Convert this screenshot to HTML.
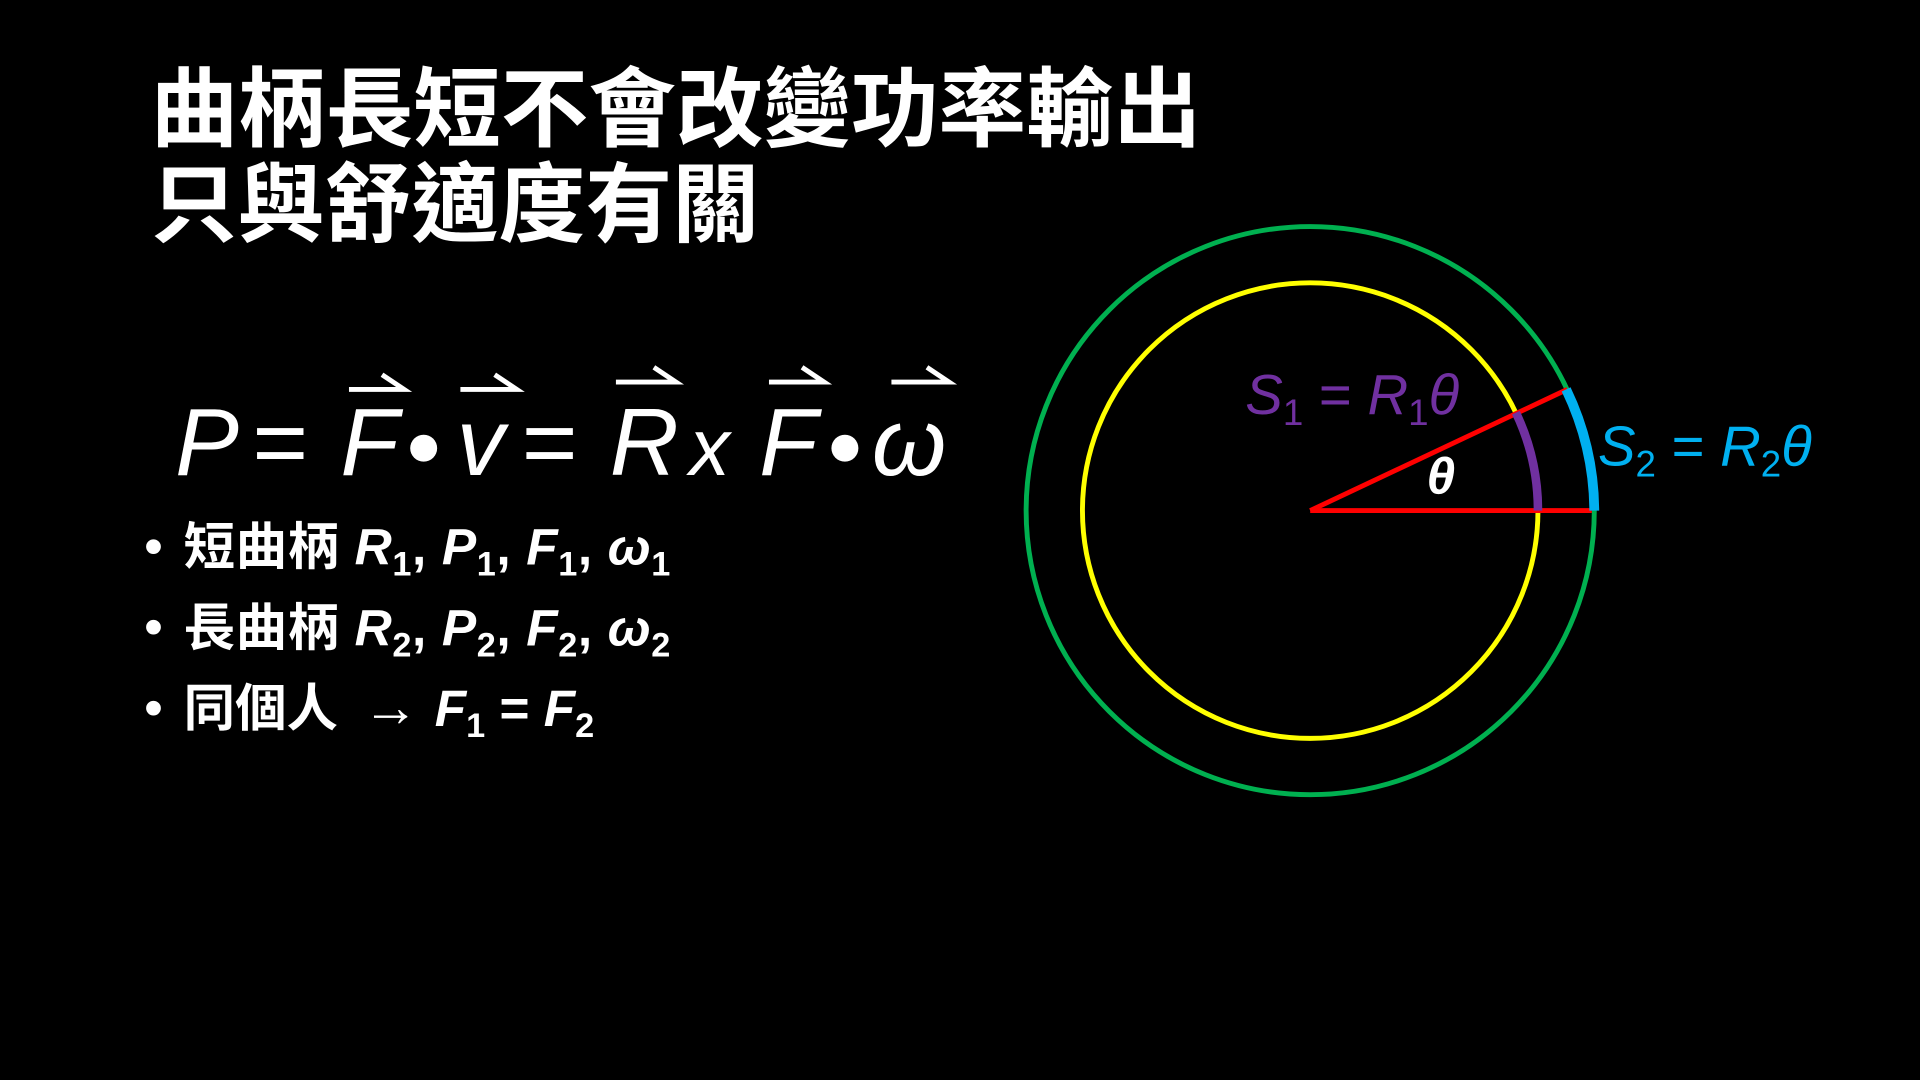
<!DOCTYPE html>
<html><head><meta charset="utf-8"><style>
html,body{margin:0;padding:0;background:#000;width:1920px;height:1080px;overflow:hidden}
svg{display:block}
.t{font-family:"Liberation Sans","Noto Sans CJK TC",sans-serif;fill:#fff}
.i{font-style:italic}
</style></head><body>
<svg width="1920" height="1080" viewBox="0 0 1568 882" xmlns="http://www.w3.org/2000/svg">
<rect width="1568" height="882" fill="#000"/>
<text class="t" x="123" y="114" font-size="71" font-weight="bold" textLength="858" lengthAdjust="spacingAndGlyphs">曲柄長短不會改變功率輸出</text>
<text class="t" x="123" y="192" font-size="71" font-weight="bold" textLength="497" lengthAdjust="spacingAndGlyphs">只與舒適度有關</text>

<g class="t i" font-size="78">
<text class="t i" x="143" y="388">P</text>
<text class="t" x="205" y="388">=</text>
<text class="t i" x="278" y="388">F</text>
<circle cx="346" cy="366" r="11" fill="#fff"/>
<text class="t i" x="373" y="388">v</text>
<text class="t" x="425" y="388">=</text>
<text class="t i" x="498" y="388">R</text>
<text class="t i" x="563" y="388" font-size="66">x</text>
<text class="t i" x="620" y="388">F</text>
<circle cx="690" cy="366" r="11" fill="#fff"/>
<text class="t i" x="712" y="388">ω</text>
</g>
<g stroke="#fff" stroke-width="4" fill="none">
<path d="M285 318H330L312 306"/>
<path d="M376 318H422L404 306"/>
<path d="M503 312H552L534 300"/>
<path d="M628 312H673L655 300"/>
<path d="M728 312H775L757 300"/>
</g>

<g font-size="42" font-weight="bold">
<text class="t" x="118" y="460">•</text>
<text class="t" x="150" y="461" letter-spacing="0.5">短曲柄 <tspan class="i">R</tspan><tspan font-size="28" dy="9">1</tspan><tspan dy="-9">, </tspan><tspan class="i">P</tspan><tspan font-size="28" dy="9">1</tspan><tspan dy="-9">, </tspan><tspan class="i">F</tspan><tspan font-size="28" dy="9">1</tspan><tspan dy="-9">, </tspan><tspan class="i">ω</tspan><tspan font-size="28" dy="9">1</tspan></text>
<text class="t" x="118" y="526">•</text>
<text class="t" x="150" y="527" letter-spacing="0.5">長曲柄 <tspan class="i">R</tspan><tspan font-size="28" dy="9">2</tspan><tspan dy="-9">, </tspan><tspan class="i">P</tspan><tspan font-size="28" dy="9">2</tspan><tspan dy="-9">, </tspan><tspan class="i">F</tspan><tspan font-size="28" dy="9">2</tspan><tspan dy="-9">, </tspan><tspan class="i">ω</tspan><tspan font-size="28" dy="9">2</tspan></text>
<text class="t" x="118" y="592">•</text>
<text class="t" x="150" y="593">同個人</text>
<text class="t" x="296" y="593" font-size="46">→</text>
<text class="t" x="355" y="593"><tspan class="i">F</tspan><tspan font-size="28" dy="9">1</tspan><tspan dy="-9"> = </tspan><tspan class="i">F</tspan><tspan font-size="28" dy="9">2</tspan></text>
</g>

<circle cx="1070" cy="417" r="232" fill="none" stroke="#00B050" stroke-width="4"/>
<circle cx="1070" cy="417" r="186" fill="none" stroke="#FFFF00" stroke-width="4"/>
<line x1="1070" y1="417" x2="1300" y2="417" stroke="#FF0000" stroke-width="4"/>
<line x1="1070" y1="417" x2="1280" y2="318" stroke="#FF0000" stroke-width="4"/>
<path d="M1256 417 A186 186 0 0 0 1238 337" fill="none" stroke="#7030A0" stroke-width="7"/>
<path d="M1302 417 A232 232 0 0 0 1279 318" fill="none" stroke="#00B0F0" stroke-width="8"/>
<text class="t i" x="1165" y="403" font-size="42" font-weight="bold">θ</text>
<text x="1017" y="338" font-size="46" fill="#7030A0" font-family="Liberation Sans,sans-serif"><tspan font-style="italic">S</tspan><tspan font-size="30" dy="9">1</tspan><tspan dy="-9"> = </tspan><tspan font-style="italic">R</tspan><tspan font-size="30" dy="9">1</tspan><tspan dy="-9" font-style="italic">θ</tspan></text>
<text x="1305" y="380" font-size="46" fill="#00B0F0" font-family="Liberation Sans,sans-serif"><tspan font-style="italic">S</tspan><tspan font-size="30" dy="9">2</tspan><tspan dy="-9"> = </tspan><tspan font-style="italic">R</tspan><tspan font-size="30" dy="9">2</tspan><tspan dy="-9" font-style="italic">θ</tspan></text>
</svg>
</body></html>
